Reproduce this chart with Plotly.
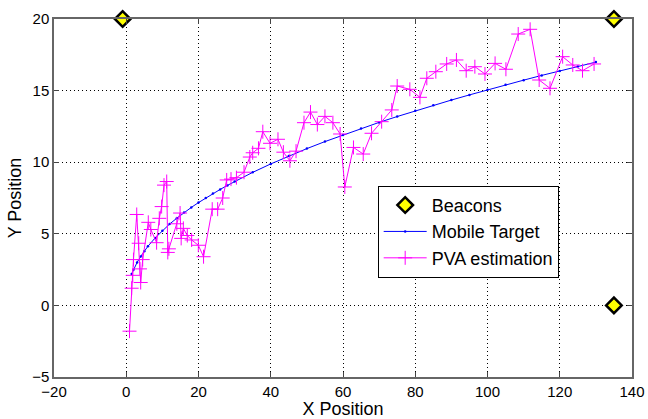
import plotly.graph_objects as go

# Beacon positions
beacon_x = [-1, 135, 135]
beacon_y = [20, 20, 0]

# True trajectory of the mobile target
target_x = [1.5, 2, 3, 4, 5, 6, 8, 10, 12, 14, 16, 18, 20, 22, 24, 26, 28, 30,
            35, 40, 45, 50, 55, 60, 65, 70, 75, 80, 85, 90, 95, 100, 105, 110,
            115, 120, 125, 130]
target_y = [2.2, 2.49, 3.0, 3.42, 3.79, 4.13, 4.71, 5.22, 5.68, 6.09, 6.48, 6.84,
            7.18, 7.5, 7.81, 8.1, 8.38, 8.65, 9.29, 9.88, 10.43, 10.95, 11.44,
            11.9, 12.35, 12.78, 13.19, 13.59, 13.97, 14.34, 14.7, 15.06, 15.4,
            15.73, 16.06, 16.37, 16.68, 16.99]

# PVA position estimates
pva_x = [0.9, 1.5, 1.8, 2.0, 2.9, 3.45, 3.8, 4.0, 4.55, 6.1, 6.8, 8.4, 9.15, 9.8,
         10.45, 11.2, 11.5, 11.8, 14.0, 14.9, 15.2, 15.8, 16.9, 18.1, 19.95, 21.4,
         23.8, 25.3, 26.7, 27.8, 29.0, 30.5, 32.6, 34.2, 35.0, 36.6, 37.8, 39.8,
         42.0, 43.5, 45.3, 47.0, 49.2, 51.0, 52.9, 55.0, 57.2, 59.2, 60.5, 62.9,
         65.6, 67.9, 70.7, 73.5, 75.0, 78.5, 81.3, 83.2, 85.7, 88.7, 91.4, 94.1,
         96.5, 99.3, 102.1, 105.1, 108.5, 111.8, 114.3, 117.3, 120.8, 123.6,
         126.3, 129.5]
pva_y = [-1.8, 1.2, 2.1, 3.2, 6.35, 4.34, 2.55, 1.6, 3.2, 5.8, 5.3, 4.38, 6.08, 6.9,
         8.4, 8.65, 3.7, 3.95, 5.7, 6.45, 4.68, 5.38, 4.88, 4.57, 4.2, 3.4,
         6.72, 6.72, 7.5, 8.76, 8.82, 8.92, 9.3, 10.36, 10.66, 10.97, 12.13, 11.32,
         11.6, 10.7, 10.1, 10.77, 12.76, 13.5, 12.63, 13.2, 12.76, 11.97, 8.27, 11.03,
         10.57, 12.02, 12.83, 13.65, 15.32, 15.09, 14.53, 15.86, 16.32, 16.86, 17.14, 16.39,
         16.67, 16.16, 16.9, 16.49, 18.95, 19.28, 15.74, 15.16, 17.37, 16.79,
         16.39, 16.86]

x_ticks = [-20, 0, 20, 40, 60, 80, 100, 120, 140]
y_ticks = [-5, 0, 5, 10, 15, 20]

FONT = "Liberation Sans, Arial, Helvetica"

fig = go.Figure()

fig.add_trace(go.Scatter(
    x=beacon_x, y=beacon_y, mode="markers", name="Beacons",
    marker=dict(symbol="diamond", size=12, color="#FFFF00",
                line=dict(color="black", width=2.5)),
    cliponaxis=False,
))
fig.add_trace(go.Scatter(
    x=target_x, y=target_y, mode="lines+markers", name="Mobile Target",
    line=dict(color="#0000FF", width=1),
    marker=dict(symbol="circle", size=2.5, color="#0000FF"),
))
fig.add_trace(go.Scatter(
    x=pva_x, y=pva_y, mode="lines+markers", name="PVA estimation",
    line=dict(color="#FF00FF", width=1),
    marker=dict(symbol="cross-thin", size=10,
                line=dict(color="#FF00FF", width=1)),
))

axis_common = dict(
    showgrid=True, gridcolor="black", gridwidth=1, griddash="1px,3px",
    zeroline=False, showline=True, linecolor="#666666", linewidth=1.5,
    mirror="ticks", ticks="inside", ticklen=5, tickcolor="#444444",
    tickfont=dict(family=FONT, size=15, color="black"),
    automargin=False,
)

fig.update_xaxes(range=[-20, 140], tickvals=x_ticks,
                 title=dict(text="X Position", standoff=4,
                            font=dict(family=FONT, size=18, color="black")),
                 **axis_common)
fig.update_yaxes(range=[-5, 20], tickvals=y_ticks,
                 title=dict(text="Y Position", standoff=6,
                            font=dict(family=FONT, size=18, color="black")),
                 **axis_common)

fig.update_layout(
    width=648, height=419,
    margin=dict(l=54, r=16, t=19, b=42),
    paper_bgcolor="white", plot_bgcolor="white",
    showlegend=True,
    legend=dict(x=0.56, y=0.534, xanchor="left", yanchor="top",
                bgcolor="white", bordercolor="black", borderwidth=1,
                font=dict(family=FONT, size=18, color="black"),
                tracegroupgap=0, itemwidth=43),
)

fig.write_html("out.html")
